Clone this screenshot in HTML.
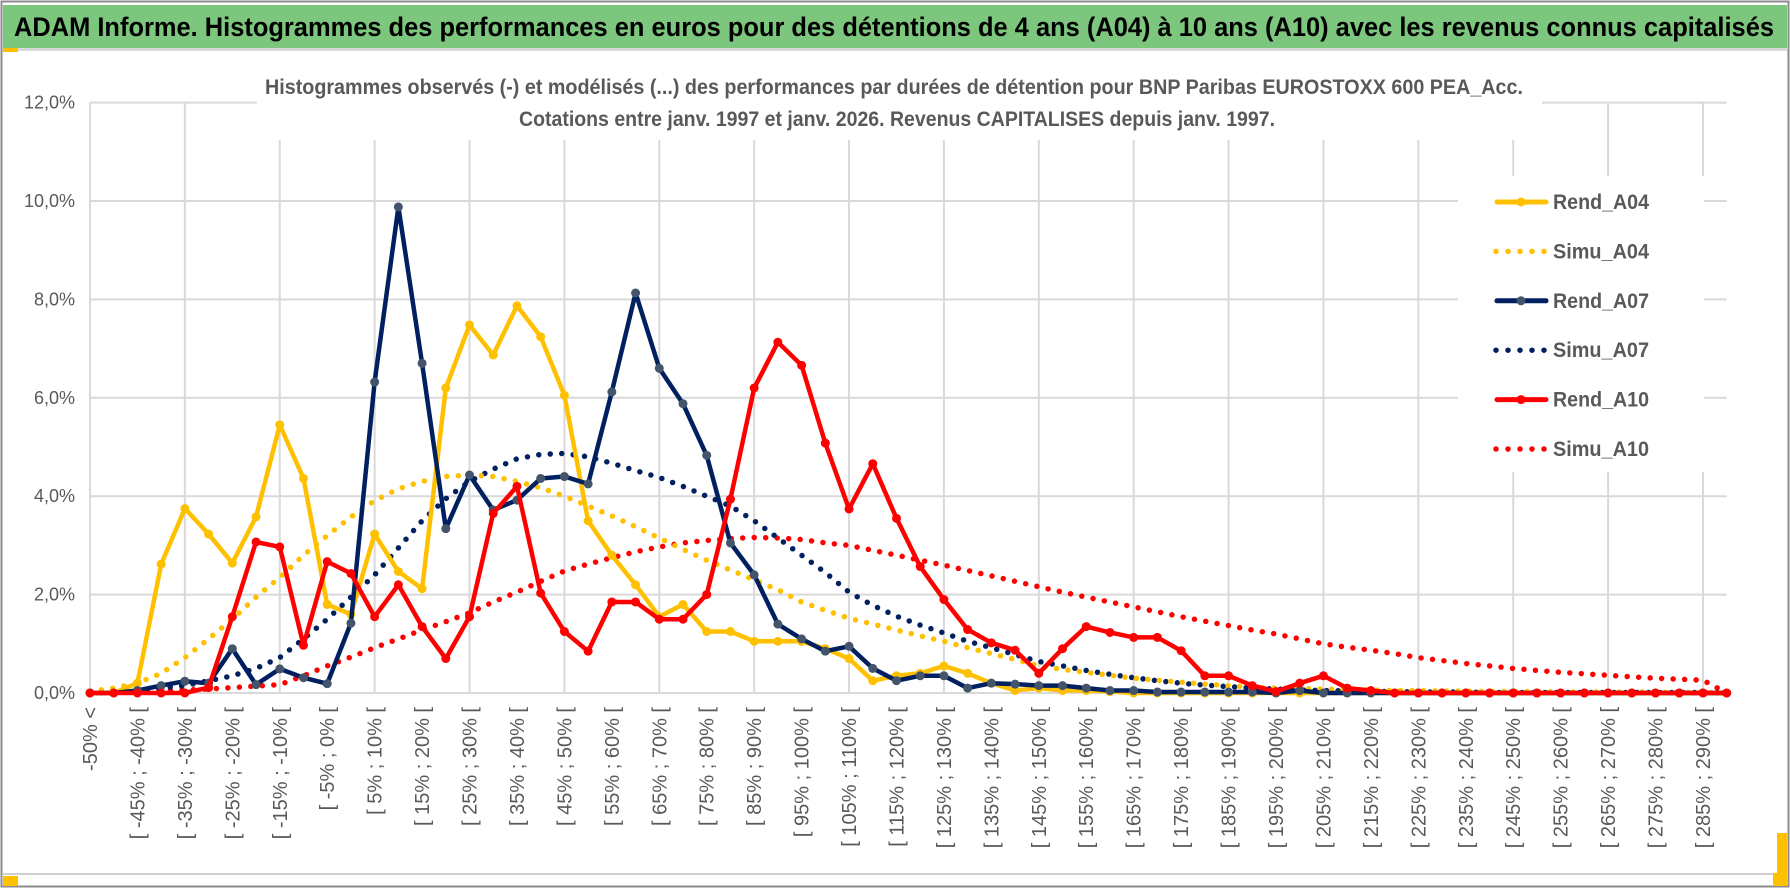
<!DOCTYPE html>
<html><head><meta charset="utf-8"><style>
html,body{margin:0;padding:0;background:#fff}
svg{display:block}
text{font-family:"Liberation Sans",Arial,sans-serif}
</style></head><body>
<svg id="chart" width="1790" height="888" viewBox="0 0 1790 888" xmlns="http://www.w3.org/2000/svg">
<rect x="0" y="0" width="1790" height="888" fill="#fff"/>
<rect x="1.5" y="1.5" width="1787" height="885" fill="none" stroke="#8c8c8c" stroke-width="2"/>
<rect x="3" y="5" width="1784" height="43" fill="#7dc67d"/>
<rect x="3" y="48" width="1784" height="3" fill="#d9d9d9"/>
<rect x="3" y="48" width="15" height="4" fill="#ffc000"/>
<text x="14" y="36" font-size="27" font-weight="bold" fill="#000" textLength="1760" lengthAdjust="spacingAndGlyphs">ADAM Informe. Histogrammes des performances en euros pour des détentions de 4 ans (A04) à 10 ans (A10) avec les revenus connus capitalisés</text>
<line x1="3" y1="874" x2="1787" y2="874" stroke="#d0d0d0" stroke-width="2"/>
<rect x="3" y="876" width="15" height="10" fill="#ffc000"/>
<rect x="1773" y="833" width="14" height="53" fill="#ffc000"/>
<rect x="1773" y="833" width="4" height="40" fill="#fff"/>
<g id="grid"></g>
<g id="cover">
<rect x="257" y="62" width="1285" height="78" fill="#fff"/>
<rect x="1458" y="176" width="246" height="296" fill="#fff"/>
</g>
<text x="894" y="94" font-size="21" font-weight="bold" fill="#595959" text-anchor="middle" textLength="1258" lengthAdjust="spacingAndGlyphs">Histogrammes observés (-) et modélisés (...) des performances par durées de détention pour BNP Paribas EUROSTOXX 600 PEA_Acc.</text>
<text x="897" y="126" font-size="21" font-weight="bold" fill="#595959" text-anchor="middle" textLength="756" lengthAdjust="spacingAndGlyphs">Cotations entre janv. 1997 et janv. 2026. Revenus CAPITALISES depuis janv. 1997.</text>
<g id="yaxis"></g>
<g id="xaxis"></g>
<g id="series"></g>
<g id="legend"></g>
</svg>
<script>
const yTicks=[0,2,4,6,8,10,12];
const yTickLabels=["0,0%","2,0%","4,0%","6,0%","8,0%","10,0%","12,0%"];
const rendA04=[0,0,0.2,2.62,3.75,3.23,2.64,3.58,5.45,4.36,1.8,1.6,3.23,2.47,2.12,6.2,7.48,6.87,7.87,7.24,6.05,3.5,2.8,2.2,1.55,1.8,1.25,1.25,1.05,1.05,1.05,0.9,0.7,0.25,0.35,0.4,0.55,0.4,0.2,0.05,0.1,0.05,0.05,0.03,0,0,0,0,0,0,0,0,0,0,0,0,0,0,0,0,0,0,0,0,0,0,0,0,0,0];
const simuA04=[0.03,0.1,0.2,0.4,0.72,1.1,1.5,1.95,2.35,2.8,3.2,3.58,3.91,4.15,4.3,4.4,4.43,4.4,4.3,4.17,4.0,3.8,3.6,3.38,3.15,2.92,2.7,2.5,2.3,2.1,1.85,1.68,1.52,1.4,1.28,1.16,1.05,0.92,0.8,0.68,0.55,0.48,0.42,0.36,0.3,0.26,0.22,0.18,0.15,0.12,0.1,0.09,0.08,0.07,0.06,0.05,0.05,0.04,0.04,0.03,0.03,0.03,0.02,0.02,0.02,0.02,0.02,0.01,0.01,0];
const rendA07=[0,0,0.05,0.15,0.24,0.2,0.9,0.17,0.49,0.31,0.19,1.42,6.32,9.88,6.7,3.34,4.43,3.72,3.92,4.36,4.4,4.25,6.12,8.13,6.6,5.88,4.83,3.05,2.4,1.4,1.1,0.85,0.95,0.5,0.25,0.35,0.35,0.1,0.2,0.18,0.15,0.15,0.1,0.05,0.05,0.02,0.02,0.02,0.02,0.02,0,0.05,0,0,0,0,0,0,0,0,0,0,0,0,0,0,0,0,0,0];
const simuA07=[0,0.02,0.05,0.1,0.15,0.25,0.35,0.5,0.72,1.1,1.5,1.95,2.4,2.95,3.5,3.95,4.3,4.55,4.76,4.85,4.87,4.8,4.67,4.52,4.38,4.2,4.0,3.8,3.5,3.15,2.8,2.45,2.05,1.78,1.56,1.38,1.22,1.05,0.92,0.78,0.64,0.55,0.46,0.38,0.31,0.25,0.2,0.16,0.13,0.1,0.08,0.06,0.05,0.04,0.03,0.03,0.02,0.02,0.02,0.01,0.01,0.01,0.01,0.01,0.01,0.01,0.01,0.01,0.01,0];
const rendA10=[0,0,0,0,0,0.11,1.55,3.07,2.97,0.97,2.67,2.43,1.55,2.2,1.35,0.7,1.55,3.65,4.2,2.03,1.25,0.85,1.85,1.85,1.5,1.5,2.0,3.94,6.2,7.13,6.66,5.08,3.74,4.66,3.55,2.57,1.9,1.29,1.02,0.87,0.4,0.9,1.35,1.23,1.13,1.13,0.86,0.35,0.35,0.15,0.03,0.2,0.35,0.1,0.05,0,0,0,0,0,0,0,0,0,0,0,0,0,0,0];
const simuA10=[0,0.01,0.02,0.04,0.06,0.08,0.11,0.14,0.17,0.35,0.55,0.73,0.92,1.1,1.28,1.45,1.63,1.85,2.05,2.27,2.48,2.62,2.75,2.87,2.97,3.05,3.1,3.14,3.16,3.15,3.12,3.05,3.0,2.9,2.8,2.7,2.6,2.49,2.38,2.27,2.16,2.05,1.95,1.85,1.75,1.65,1.55,1.46,1.37,1.28,1.2,1.1,1.0,0.93,0.87,0.8,0.72,0.66,0.6,0.55,0.5,0.46,0.42,0.39,0.36,0.33,0.3,0.28,0.26,0];

const NS="http://www.w3.org/2000/svg";
const X0=90, DX=23.72, Y0=693, PY=49.2;
function xPos(i){return X0+i*DX;}
function yPos(v){return Y0-v*PY;}
function mk(tag,attrs,parent){const e=document.createElementNS(NS,tag);for(const k in attrs)e.setAttribute(k,attrs[k]);parent.appendChild(e);return e;}
const N=rendA04.length;
function catLabel(i){if(i===0)return "-50% <";const lo=-55+5*i;return "[ "+lo+"% ; "+(lo+5)+"% [";}

const grid=document.getElementById('grid');
yTicks.forEach(t=>{const l=mk('line',{x1:X0,x2:xPos(N-1),y1:yPos(t),y2:yPos(t),stroke:'#d9d9d9','stroke-width':2},grid);

});
for(let i=0;i<N;i+=4){const l=mk('line',{x1:xPos(i),x2:xPos(i),y1:yPos(12),y2:Y0,stroke:'#d9d9d9','stroke-width':2},grid);

}

const ya=document.getElementById('yaxis');
yTicks.forEach((t,k)=>{const e=mk('text',{x:75,y:yPos(t)+6,'font-size':18,fill:'#595959','text-anchor':'end'},ya);e.textContent=yTickLabels[k];

});

const xa=document.getElementById('xaxis');
for(let i=0;i<N;i+=2){const x=xPos(i)+7,y=707;const e=mk('text',{x:x,y:y,'font-size':20,fill:'#595959','text-anchor':'end',transform:'rotate(-90 '+x+' '+y+')'},xa);e.textContent=catLabel(i);

}

const ser=document.getElementById('series');
function pts(arr){return arr.map((v,i)=>xPos(i).toFixed(1)+','+yPos(v).toFixed(1)).join(' ');}
function dotted(arr,color,name){const p=mk('polyline',{points:pts(arr),fill:'none',stroke:color,'stroke-width':5.5,'stroke-linecap':'round','stroke-dasharray':'0 11.5'},ser);

}
function solid(arr,color,mcolor,name){const g=mk('g',{},ser);


mk('polyline',{points:pts(arr),fill:'none',stroke:color,'stroke-width':4.5,'stroke-linejoin':'round'},g);
arr.forEach((v,i)=>{const c=mk('circle',{cx:xPos(i),cy:yPos(v),r:4.5,fill:mcolor},g);

});}
dotted(simuA10,'#ff0000','simu-a10-line');
dotted(simuA07,'#002060','simu-a07-line');
dotted(simuA04,'#ffc000','simu-a04-line');
solid(rendA04,'#ffc000','#ffc000','rend-a04-line');
solid(rendA07,'#002060','#44546a','rend-a07-line');
solid(rendA10,'#ff0000','#ff0000','rend-a10-line');

const leg=document.getElementById('legend');
const legItems=[["Rend_A04","#ffc000","#ffc000",false],["Simu_A04","#ffc000","",true],["Rend_A07","#002060","#44546a",false],["Simu_A07","#002060","",true],["Rend_A10","#ff0000","#ff0000",false],["Simu_A10","#ff0000","",true]];
legItems.forEach((it,k)=>{const y=202+k*49.4;const g=mk('g',{},leg);


if(it[3]){mk('line',{x1:1496,x2:1547,y1:y,y2:y,stroke:it[1],'stroke-width':5.5,'stroke-linecap':'round','stroke-dasharray':'0 12'},g);}
else{mk('line',{x1:1497,x2:1546,y1:y,y2:y,stroke:it[1],'stroke-width':5,'stroke-linecap':'round'},g);mk('circle',{cx:1521,cy:y,r:4.5,fill:it[2]},g);}
const t=mk('text',{x:1553,y:y+7,'font-size':21,'font-weight':'bold',fill:'#595959',textLength:96,lengthAdjust:'spacingAndGlyphs'},g);t.textContent=it[0];});
</script>
</body></html>
